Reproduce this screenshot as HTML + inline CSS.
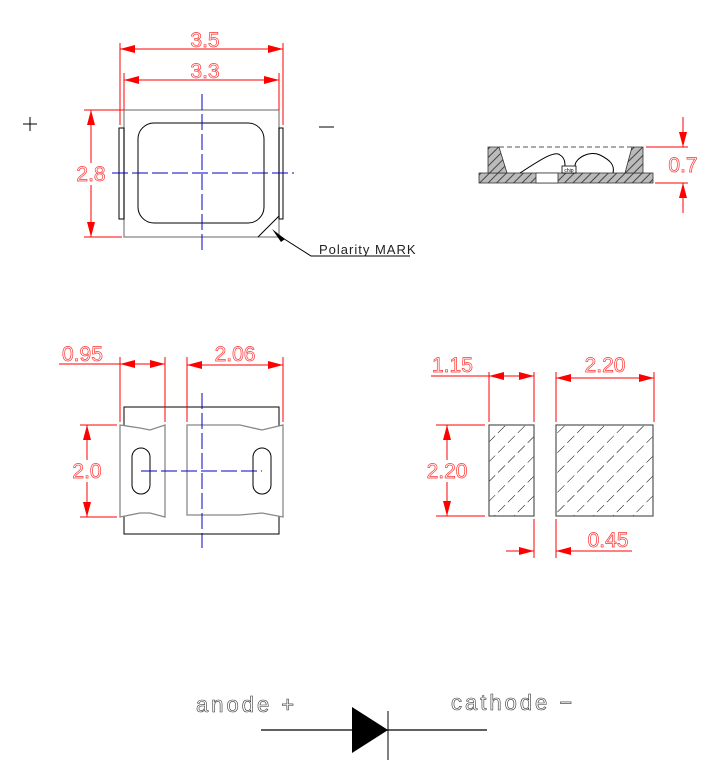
<!DOCTYPE html>
<html><head><meta charset="utf-8"><style>
html,body{margin:0;padding:0;background:#fff;}
svg{display:block;}
.d{fill:#fff;stroke:#f33;stroke-width:0.7;font-family:"Liberation Sans",sans-serif;font-size:21px;}
.r{stroke:#f00;stroke-width:1;fill:none;}
.k{stroke:#000;stroke-width:1;fill:none;}
.g{stroke:#888;stroke-width:1.3;fill:none;}
.b{stroke:#00c;stroke-width:1;fill:none;stroke-dasharray:16,4;}
.t{fill:#fff;stroke:#333;stroke-width:0.6;font-family:"Liberation Sans",sans-serif;}
</style></head><body>
<svg width="721" height="776" viewBox="0 0 721 776" xmlns="http://www.w3.org/2000/svg">
<defs>
<marker id="a" markerUnits="userSpaceOnUse" markerWidth="16" markerHeight="8" refX="15" refY="4" orient="auto-start-reverse"><path d="M0,0 L15,4 L0,8 z" fill="#f00"/></marker>
<pattern id="h" width="6" height="6" patternUnits="userSpaceOnUse" patternTransform="rotate(45)"><rect width="6" height="6" fill="#bbb"/><line x1="0" y1="0" x2="0" y2="6" stroke="#444" stroke-width="2"/></pattern>
<pattern id="s" width="14" height="14" patternUnits="userSpaceOnUse" patternTransform="rotate(45)"><line x1="0" y1="0" x2="0" y2="14" stroke="#000" stroke-width="1" stroke-dasharray="10,5"/></pattern>
</defs>

<!-- top view -->
<path class="k" d="M30,117 V131 M23,124 H37"/>
<path class="k" d="M319,127 H334"/>
<rect x="124" y="110" width="155" height="127" class="g"/>
<rect x="119" y="128" width="5" height="91" class="k"/>
<rect x="279" y="128" width="4" height="91" class="k"/>
<rect x="138" y="123" width="126" height="100" rx="16" class="k"/>
<path class="k" d="M258,237 L279,216"/>
<path class="b" d="M202,94 V250 M112,173 H294"/>
<path class="r" d="M120,43 V125 M283,43 V125 M124,73 V110 M279,73 V110"/>
<line x1="120" y1="49" x2="283" y2="49" class="r" marker-start="url(#a)" marker-end="url(#a)"/>
<line x1="124" y1="80" x2="279" y2="80" class="r" marker-start="url(#a)" marker-end="url(#a)"/>
<text class="d" x="205" y="47" text-anchor="middle">3.5</text>
<text class="d" x="205" y="78" text-anchor="middle">3.3</text>
<path class="r" d="M84,110 H124 M84,237 H122"/>
<line x1="91" y1="110" x2="91" y2="237" class="r" marker-start="url(#a)" marker-end="url(#a)"/>
<rect x="76" y="163" width="30" height="22" fill="#fff"/>
<text class="d" x="91" y="181" text-anchor="middle">2.8</text>
<path d="M272,229 L285,239 L281,242 z" fill="#000"/>
<path class="k" d="M278,235 L311,256 H410"/>
<text x="319" y="254" font-size="13" letter-spacing="1" fill="#222" font-family="Liberation Sans,sans-serif">Polarity MARK</text>

<!-- side view -->
<rect x="479" y="173" width="174" height="10" fill="url(#h)" stroke="#333" stroke-width="0.8"/>
<rect x="536" y="173" width="22" height="10" fill="#fff" stroke="#333" stroke-width="0.8"/>
<path d="M488,147 H499 L507,173 H488 z" fill="url(#h)" stroke="#333" stroke-width="0.8"/>
<path d="M632,147 H643 V173 H625 z" fill="url(#h)" stroke="#333" stroke-width="0.8"/>
<path d="M499,147 H632" stroke="#555" stroke-dasharray="5,3" fill="none"/>
<path class="k" d="M520,173 C540,160 555,150 560,155 C565,158 565,163 565,166"/>
<path class="k" d="M575,166 C575,158 590,150 600,155 C610,160 615,165 613,173"/>
<rect x="562" y="166" width="14" height="7" fill="#fff" stroke="#000" stroke-width="0.8"/>
<text x="569" y="172" font-size="5" text-anchor="middle" font-family="Liberation Sans,sans-serif">chip</text>
<path class="r" d="M646,147 H688 M655,183 H688"/>
<line x1="683" y1="117" x2="683" y2="147" class="r" marker-end="url(#a)"/>
<line x1="683" y1="213" x2="683" y2="183" class="r" marker-end="url(#a)"/>
<text class="d" x="683" y="172" text-anchor="middle">0.7</text>

<!-- bottom-left view -->
<rect x="124" y="407" width="155" height="127" class="k"/>
<path d="M120,425 L140,428 L150,430 L165,425 V517 L150,513 L140,513 L120,517 z" fill="#fff" stroke="#888" stroke-width="1.3"/>
<path d="M187,425 H240 L262,430 L283,425 V517 L262,513 L240,515 H187 z" fill="#fff" stroke="#888" stroke-width="1.3"/>
<rect x="132" y="448" width="18" height="46" rx="9" class="k"/>
<rect x="253" y="448" width="18" height="46" rx="9" class="k"/>
<path class="b" d="M202,393 V548 M141,471 H262"/>
<path class="r" d="M120,357 V422 M165,357 V422 M187,357 V422 M283,357 V422"/>
<line x1="59" y1="364" x2="120" y2="364" class="r"/>
<line x1="120" y1="364" x2="165" y2="364" class="r" marker-start="url(#a)" marker-end="url(#a)"/>
<line x1="187" y1="365" x2="283" y2="365" class="r" marker-start="url(#a)" marker-end="url(#a)"/>
<text class="d" x="62" y="361">0.95</text>
<text class="d" x="235" y="361" text-anchor="middle">2.06</text>
<path class="r" d="M80,425 H117 M80,517 H117"/>
<line x1="87" y1="425" x2="87" y2="517" class="r" marker-start="url(#a)" marker-end="url(#a)"/>
<rect x="72" y="460" width="30" height="22" fill="#fff"/>
<text class="d" x="87" y="478" text-anchor="middle">2.0</text>

<!-- bottom-right view -->
<rect x="489" y="425" width="45" height="91" fill="url(#s)" stroke="#555" stroke-width="1.2"/>
<rect x="556" y="425" width="97" height="91" fill="url(#s)" stroke="#555" stroke-width="1.2"/>
<path class="r" d="M489,372 V422 M534,372 V422 M556,372 V422 M654,372 V422"/>
<line x1="431" y1="376" x2="489" y2="376" class="r"/>
<line x1="489" y1="376" x2="534" y2="376" class="r" marker-start="url(#a)" marker-end="url(#a)"/>
<line x1="556" y1="378" x2="654" y2="378" class="r" marker-start="url(#a)" marker-end="url(#a)"/>
<text class="d" x="432" y="372">1.15</text>
<text class="d" x="605" y="372" text-anchor="middle">2.20</text>
<path class="r" d="M436,425 H485 M436,516 H485"/>
<line x1="447" y1="425" x2="447" y2="516" class="r" marker-start="url(#a)" marker-end="url(#a)"/>
<rect x="426" y="460" width="42" height="22" fill="#fff"/>
<text class="d" x="447" y="478" text-anchor="middle">2.20</text>
<path class="r" d="M534,519 V558 M556,519 V558"/>
<line x1="506" y1="551" x2="534" y2="551" class="r" marker-end="url(#a)"/>
<line x1="632" y1="551" x2="556" y2="551" class="r" marker-end="url(#a)"/>
<text class="d" x="608" y="547" text-anchor="middle">0.45</text>

<!-- diode -->
<text class="t" x="196" y="712" font-size="22" letter-spacing="3">anode +</text>
<text class="t" x="451" y="710" font-size="22" letter-spacing="3">cathode −</text>
<line x1="261" y1="730" x2="487" y2="730" stroke="#000" stroke-width="1.2"/>
<path d="M352,707 L388,730 L352,753 z" fill="#000"/>
<line x1="388" y1="711" x2="388" y2="760" stroke="#000" stroke-width="1"/>
</svg>
</body></html>
